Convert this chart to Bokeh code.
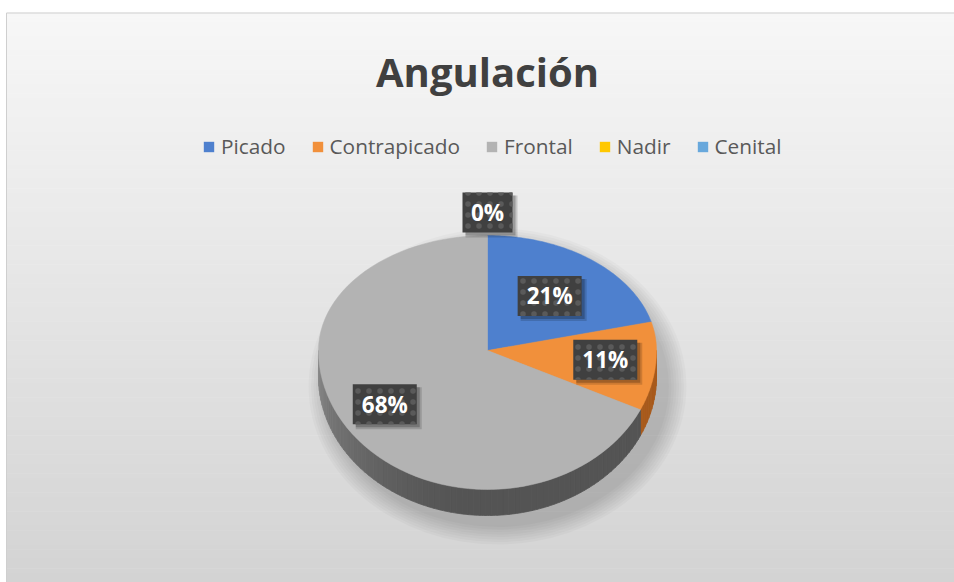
import numpy as np
from bokeh.plotting import figure
from bokeh.models import Range1d, Legend, LegendItem
from bokeh.core.properties import value
from bokeh.embed import file_html
from bokeh.resources import INLINE

# ---------------- data ----------------
title_text = "Angulación"
categories = ["Picado", "Contrapicado", "Frontal", "Nadir", "Cenital"]
percentages = [21, 11, 68, 0, 0]
labels = [f"{v}%" for v in percentages]

# ---------------- style ----------------
colors = ["#4e80ce", "#f1903b", "#b3b3b3", "#ffc800", "#68a8dc"]
side_rgb = [(47, 85, 151), (168, 90, 28), (84, 84, 84), (190, 145, 0), (60, 120, 170)]
label_radius = [0.6, 0.7, 0.72, 1.2, 1.2]   # label distance from centre (fraction of radius)

W, H = 954, 582
p = figure(width=W, height=H, x_range=Range1d(0, W), y_range=Range1d(H, 0),
           output_backend="svg", toolbar_location=None, min_border=0)
p.axis.visible = False
p.xgrid.visible = False
p.ygrid.visible = False
p.outline_line_color = None
p.background_fill_color = "white"
p.border_fill_color = "white"

# background gradient of the chart area
n_bands = 120
edges = np.linspace(12, 582, n_bands + 1)
tops, bots, bcols = [], [], []
for i in range(n_bands):
    t = (i + 0.5) / n_bands
    c = int(round(247 - (247 - 211) * t))
    tops.append(edges[i])
    bots.append(edges[i + 1] + 0.6)
    bcols.append("#%02x%02x%02x" % (c, c, c))
p.quad(left=6, right=954, top=tops, bottom=bots, fill_color=bcols, line_color=None)
p.segment(x0=[6, 6], y0=[12.5, 12.5], x1=[954, 6], y1=[12.5, 582], line_color="#cfcfcf", line_width=1)

# ---------------- pie geometry ----------------
cx, cy = 487.0, 350.0
rx, ry_back, ry_front = 169.0, 115.0, 139.0
depth = 26.0


def rim(theta_deg):
    t = np.radians(np.asarray(theta_deg, dtype=float))
    c = np.cos(t)
    x = cx + rx * np.sin(t)
    y = cy - np.where(c > 0, ry_back, ry_front) * c
    return x, y


total = float(sum(percentages))
bounds = np.concatenate([[0.0], np.cumsum(percentages) / total * 360.0])

# soft shadow under the pie (mostly right / below)
for k in range(8, 0, -1):
    p.ellipse(x=[cx + 10], y=[cy + 36], width=[2 * rx + 5 * k], height=[276 + 5 * k],
              fill_color="black", fill_alpha=0.022, line_color=None)


def slice_of(theta):
    for i in range(len(percentages)):
        if percentages[i] > 0 and bounds[i] <= theta < bounds[i + 1]:
            return i
    return 2

# side wall (visible front half)
step = 2.0
side_xs, side_ys, side_cols = [], [], []
cuts = sorted(set([90.0, 270.0] + [b for b in bounds if 90.0 < b < 270.0]))
for a0, a1 in zip(cuts[:-1], cuts[1:]):
    n = max(1, int(np.ceil((a1 - a0) / step)))
    segs = np.linspace(a0, a1, n + 1)
    for s0, s1 in zip(segs[:-1], segs[1:]):
        mid = 0.5 * (s0 + s1)
        idx = slice_of(mid)
        f = 1.0 + 0.65 * np.clip((mid - 185.0) / 85.0, 0, 1) ** 1.5
        r, g, b = [min(255, int(v * f)) for v in side_rgb[idx]]
        th = np.linspace(s0, s1, 4)
        tx, ty = rim(th)
        xs = list(tx) + list(tx[::-1])
        ys = list(ty) + list((ty + depth)[::-1])
        side_xs.append(xs)
        side_ys.append(ys)
        side_cols.append("#%02x%02x%02x" % (r, g, b))
p.patches(xs=side_xs, ys=side_ys, fill_color=side_cols, line_color=side_cols, line_width=0.8)

# top face wedges
for i, v in enumerate(percentages):
    if v > 0:
        th = np.linspace(bounds[i], bounds[i + 1], 80)
        tx, ty = rim(th)
        p.patch(x=[cx] + list(tx), y=[cy] + list(ty), fill_color=colors[i],
                line_color=colors[i], line_width=0.5)

# legend swatches (renderers placed outside the visible range)
legend_renderers = []
for i, cat in enumerate(categories):
    r = p.rect(x=[-500], y=[-500], width=[1], height=[1], fill_color=colors[i], line_color=None)
    legend_renderers.append(r)

# data labels
seen = set()
for i, v in enumerate(percentages):
    mid = 0.5 * (bounds[i] + bounds[i + 1])
    rf = label_radius[i]
    t = np.radians(mid)
    c = np.cos(t)
    lx = cx + rf * rx * np.sin(t)
    ly = cy - rf * (ry_back if c > 0 else ry_front) * c
    key = (round(lx), round(ly))
    if key in seen:
        continue
    seen.add(key)
    bw = 22 + 14 * len(labels[i])
    p.rect(x=[lx + 4], y=[ly + 4], width=[bw + 2], height=[42], fill_color="black",
           fill_alpha=0.15, line_color=None)
    p.rect(x=[lx + 3], y=[ly + 3], width=[bw], height=[40], fill_color="black",
           fill_alpha=0.22, line_color=None)
    p.rect(x=[lx], y=[ly], width=[bw], height=[40], fill_color="#404040", line_color=None,
           hatch_pattern="dot", hatch_color="#5a5a5a", hatch_scale=11, hatch_weight=1)
    p.text(x=[lx], y=[ly], text=[labels[i]], text_font=value("Open Sans"),
           text_font_style="bold", text_font_size="22.5px", text_color="white",
           text_align="center", text_baseline="alphabetic")

# title
p.text(x=[487], y=[71], text=[title_text], text_font=value("Open Sans"),
       text_font_style="bold", text_font_size="40px", text_color="#404040",
       text_align="center", text_baseline="alphabetic")

# legend
legend = Legend(items=[LegendItem(label=categories[i], renderers=[legend_renderers[i]])
                       for i in range(len(categories))],
                orientation="horizontal", location=(202, 422),
                glyph_width=13, glyph_height=13, label_standoff=6, spacing=25,
                padding=0, margin=0, border_line_color=None, background_fill_alpha=0,
                label_text_font="Open Sans", label_text_font_size="20.8px",
                label_text_color="#595959", label_height=20)
p.add_layout(legend)

open("out.html", "w").write(file_html(p, INLINE))
